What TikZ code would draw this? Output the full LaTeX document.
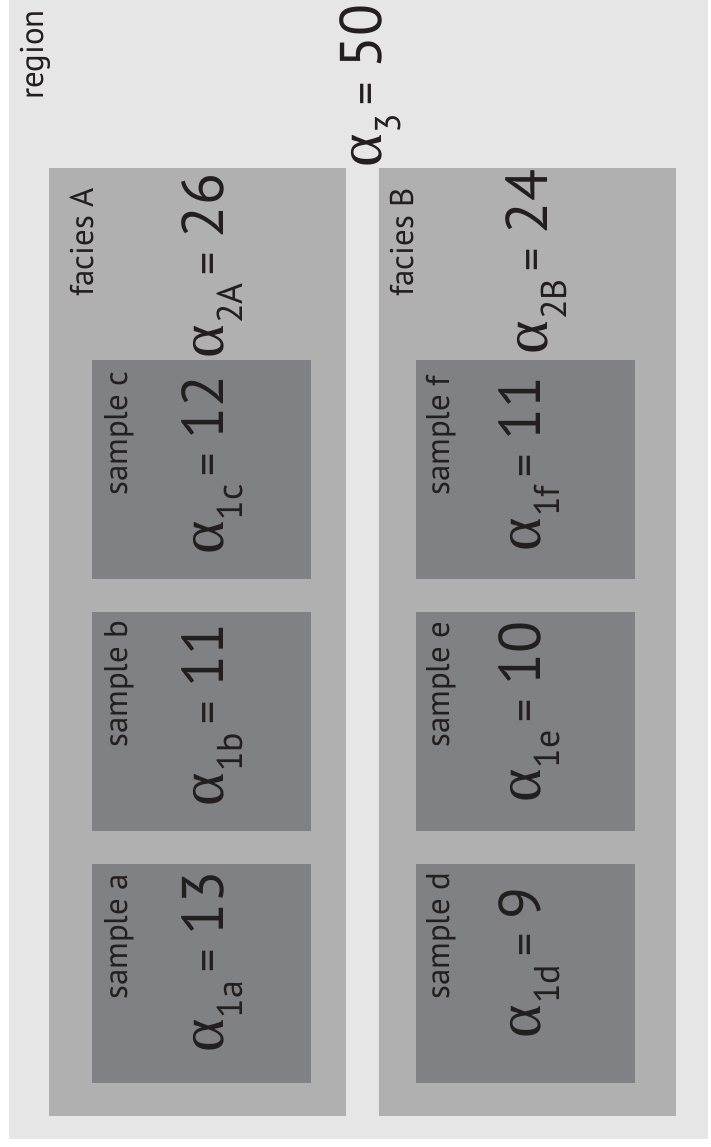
\documentclass[tikz,border=0pt]{standalone}
\usepackage{fontspec}
\setmainfont{PT Sans}
\newfontfamily\greekfont{Liberation Serif}
\definecolor{regionc}{HTML}{E6E6E6}
\definecolor{faciesc}{HTML}{B0B0B0}
\definecolor{samplec}{HTML}{808184}
\definecolor{inkc}{HTML}{231F20}
\newcommand\fml[2]{{\fontsize{64}{64}\selectfont\greekfont α}\kern1bp\raisebox{-19bp}{\fontsize{36}{36}\selectfont #1}\kern8bp{\fontsize{46}{46}\selectfont =}\kern14bp{\fontsize{59}{59}\selectfont #2}}
\tikzset{
  box/.style={inner sep=0pt, outer sep=0pt, anchor=north west, draw=none},
  regionbox/.style={box, fill=regionc, minimum width=702, minimum height=1143},
  faciesbox/.style={box, fill=faciesc, minimum width=298, minimum height=952},
  samplebox/.style={box, fill=samplec, minimum width=220, minimum height=220},
  lbl/.style={rotate=90, text=inkc, inner sep=0pt, anchor=base west, font=\fontsize{33}{33}\selectfont},
  formula/.style={rotate=90, text=inkc, inner sep=0pt, anchor=base},
}
\begin{document}
\begin{tikzpicture}[x=1bp,y=1bp]
\useasboundingbox (0,0) rectangle (711,-1147);
\node[regionbox] (region) at (9,0) {};
\node[faciesbox] (faciesA) at (49,-168) {};
\node[faciesbox] (faciesB) at (379,-168) {};
\node[samplebox] (sc) at (92,-360) {};
\node[samplebox] (sb) at (92,-612) {};
\node[samplebox] (sa) at (92,-864) {};
\node[samplebox] (sf) at (416,-360) {};
\node[samplebox] (se) at (416,-612) {};
\node[samplebox] (sd) at (416,-864) {};
% labels
\node[lbl] (tregion) at (43,-100) {region};
\node[lbl] (tfA) at (93,-297) {facies A};
\node[lbl] (tfB) at (413,-297) {facies B};
\node[lbl] (tsa) at (127,-1000) {sample a};
\node[lbl] (tsb) at (127,-748) {sample b};
\node[lbl] (tsc) at (127,-496) {sample c};
\node[lbl] (tsd) at (449,-1000) {sample d};
\node[lbl] (tse) at (449,-748) {sample e};
\node[lbl] (tsf) at (449,-496) {sample f};
% formulas
\node[formula] (f3) at (381,-86) {\fml{3}{50}};
\node[formula] (f2A) at (223,-266) {\fml{2A}{26}};
\node[formula] (f2B) at (547,-262) {\fml{2B}{24}};
\node[formula] (f1a) at (223,-962) {\fml{1a}{13}};
\node[formula] (f1b) at (223,-715) {\fml{1b}{11}};
\node[formula] (f1c) at (223,-465) {\fml{1c}{12}};
\node[formula] (f1d) at (540,-963) {\fml{1d}{9}};
\node[formula] (f1e) at (540,-712) {\fml{1e}{10}};
\node[formula] (f1f) at (540,-464) {\fml{1f}{11}};
\end{tikzpicture}
\end{document}
